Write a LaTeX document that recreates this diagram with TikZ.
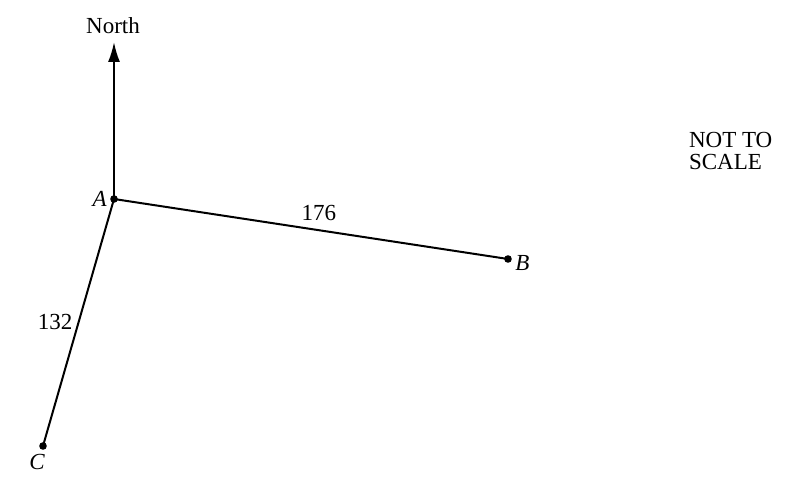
\documentclass[tikz,border=0pt]{standalone}
\usepackage{fontspec}
\setmainfont{Liberation Serif}
\usetikzlibrary{calc, arrows.meta, positioning}

\begin{document}
\begin{tikzpicture}[x=0.5pt, y=0.5pt, font=\fontsize{11.5}{13}\selectfont,
    pt/.style={circle, fill, inner sep=0pt, minimum size=3.8pt},
    seg/.style={line width=1pt}]
            \useasboundingbox (0, 0) rectangle (789, 483);
            \node[pt] (a) at (114, 284) {};
            \node[pt] (b) at (508, 224) {};
            \node[pt] (c) at (43, 37) {};
            \coordinate (n) at (114, 441);
            \node (north) at (113, 457) {North};
            \node[left=-2pt of a] (la) {\textit{A}};
            \node[right=-2pt of b, yshift=-2pt] (lb) {\textit{B}};
            \node[below left=-1pt and -6pt of c] (lc) {\textit{C}};
            \draw[seg, -{Latex[length=10pt, width=6pt]}] (a.center) -- (n);
            \draw[seg] (a.center) -- (b.center) node[pos=0.52, above=1pt] (ab) {176};
            \draw[seg] (a.center) -- (c.center);
            \node (ac) at (55, 161) {132};
            \node[align=left, anchor=west] (scale) at (682, 332) {NOT TO\\[-2pt]SCALE};
        \end{tikzpicture}
\end{document}
